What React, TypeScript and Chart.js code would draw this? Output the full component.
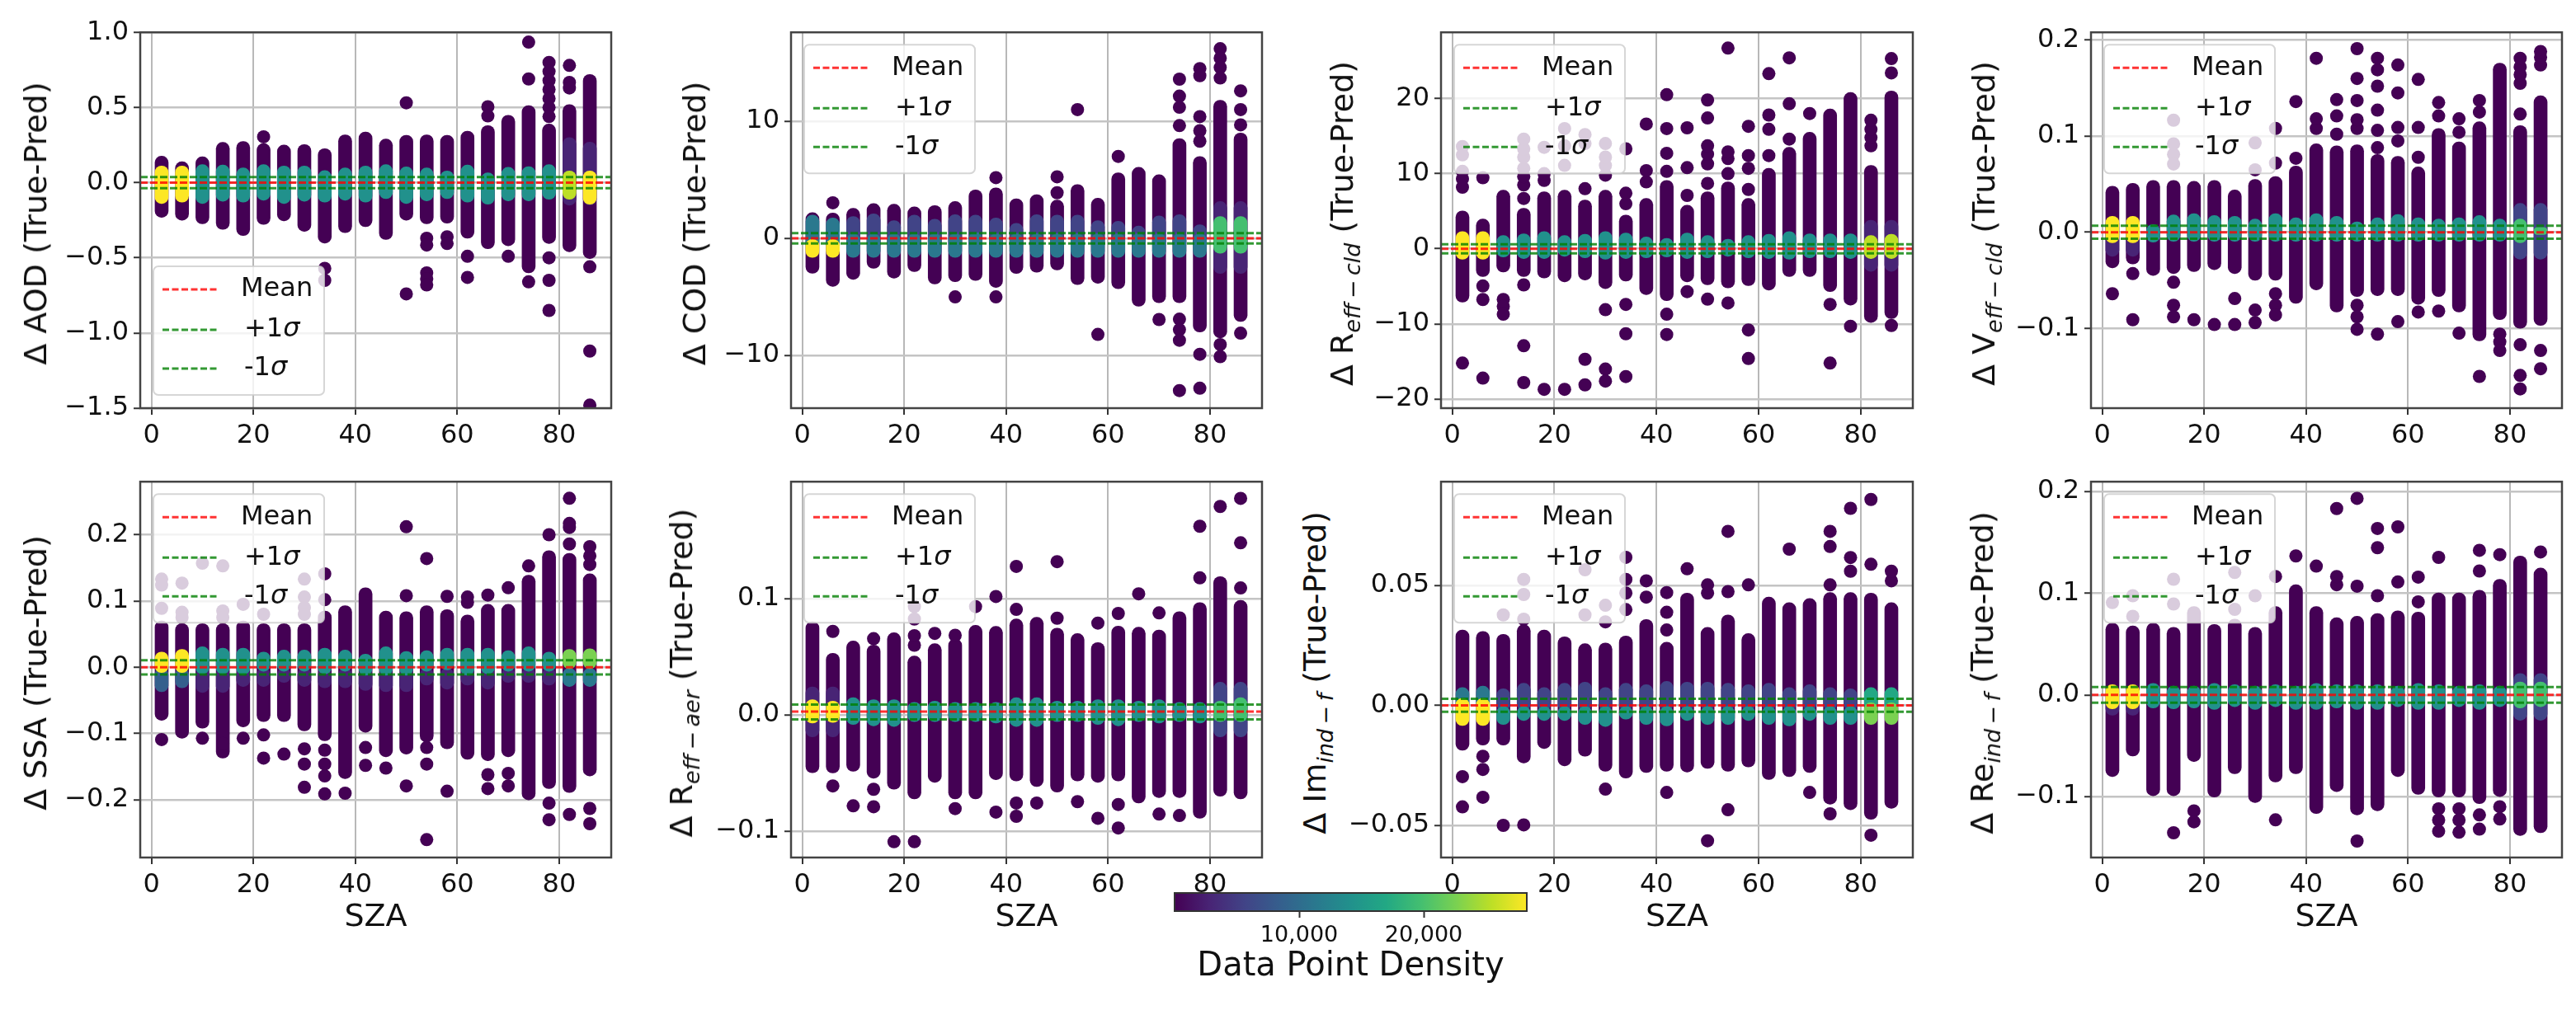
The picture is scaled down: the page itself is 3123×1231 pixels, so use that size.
import { useEffect, useRef } from "react";
import type { ReactNode } from "react";
import { Chart, registerables } from "chart.js";

Chart.register(...registerables);

const FONT = '"DejaVu Sans"';

// SZA bins shared by every panel
const sza = [2, 6, 10, 14, 18, 22, 26, 30, 34, 38, 42, 46, 50, 54, 58, 62, 66, 70, 74, 78, 82, 86];
const xTicks = [0, 20, 40, 60, 80];

// AOD
const aodTop = [0.176, 0.139, 0.172, 0.268, 0.274, 0.26, 0.25, 0.254, 0.226, 0.318, 0.337, 0.29, 0.315, 0.318, 0.315, 0.343, 0.38, 0.448, 0.513, 0.39, 0.52, 0.72];
const aodBottom = [-0.231, -0.25, -0.274, -0.311, -0.352, -0.278, -0.254, -0.324, -0.402, -0.333, -0.293, -0.378, -0.25, -0.274, -0.27, -0.37, -0.44, -0.42, -0.6, -0.405, -0.46, -0.505];
const aodCoreTop = [0.111, 0.111, 0.12, 0.117, 0.098, 0.12, 0.111, 0.111, 0.08, 0.098, 0.111, 0.12, 0.105, 0.098, 0.078, 0.117, 0.065, 0.102, 0.107, 0.12, 0.078, 0.078];
const aodCoreBottom = [-0.139, -0.13, -0.139, -0.124, -0.13, -0.117, -0.139, -0.124, -0.13, -0.117, -0.13, -0.107, -0.139, -0.121, -0.107, -0.13, -0.144, -0.121, -0.121, -0.111, -0.111, -0.144];
const aodCoreDensity = [28000, 28000, 14000, 14000, 14000, 14000, 14000, 14000, 14000, 14000, 14000, 14000, 14000, 14000, 14000, 14000, 14000, 14000, 14000, 14000, 26500, 26900];
const aodMidTop = [null, null, null, null, null, null, null, null, null, null, null, null, null, null, null, null, null, null, null, null, 0.3, 0.27];
const aodMidBottom = [null, null, null, null, null, null, null, null, null, null, null, null, null, null, null, null, null, null, null, null, -0.15, -0.15];
const aodMidDensity = [0, 0, 0, 0, 0, 0, 0, 0, 0, 0, 0, 0, 0, 0, 0, 0, 0, 0, 0, 0, 2000, 2000];
const aodOutliers = [[22, 0.305], [50, 0.531], [66, 0.505], [66, 0.444], [74, 0.69], [74, 0.935], [78, 0.8], [78, 0.74], [78, 0.68], [78, 0.62], [78, 0.56], [78, 0.5], [78, 0.44], [82, 0.78], [82, 0.667], [82, 0.63], [34, -0.57], [34, -0.65], [50, -0.74], [54, -0.37], [54, -0.415], [54, -0.6], [54, -0.64], [54, -0.68], [58, -0.36], [58, -0.405], [62, -0.49], [62, -0.63], [70, -0.49], [74, -0.66], [78, -0.5], [78, -0.65], [78, -0.85], [86, -0.56], [86, -1.12], [86, -1.48]];
const aodStats = [0, 0.037, -0.037];
const aodTicks = [-1.5, -1, -0.5, 0, 0.5, 1];
const aodTickLabels = ["−1.5", "−1.0", "−0.5", "0.0", "0.5", "1.0"];

// COD
const codTop = [2.2, 2.17, 2.57, 2.97, 2.92, 2.69, 2.8, 3.15, 4.14, 4.32, 3.39, 3.74, 3.27, 4.6, 3.43, 5.6, 6.07, 5.44, 8.53, 7.0, 11.8, 9.0];
const codBottom = [-2.98, -4.1, -3.5, -2.56, -3.4, -2.84, -3.9, -3.7, -3.6, -4.19, -3.0, -2.9, -2.7, -3.95, -3.84, -4.3, -5.8, -5.5, -5.5, -8, -8.5, -7.1];
const codCoreTop = [0, 0, 0.4, 0.4, 0.4, 0.4, 0.4, 0.4, 0.5, 0.4, 0.4, 0.4, 0.4, 0.4, 0.4, 0.4, 0.4, 0.4, 0.4, 0.4, 1.87, 1.87];
const codCoreBottom = [-1.63, -1.63, -1.63, -1.63, -1.63, -1.63, -1.63, -1.63, -1.63, -1.63, -1.63, -1.63, -1.63, -1.63, -1.63, -1.63, -1.63, -1.63, -1.63, -1.63, -1.28, -1.28];
const codCoreDensity = [28000, 28000, 11500, 11500, 11500, 11500, 11500, 11500, 11500, 11500, 11500, 11500, 11500, 11500, 11500, 11500, 11500, 11500, 11500, 11500, 19500, 19500];
const codMidTop = [1.99, 1.75, 1.87, 2.1, 1.52, 1.99, 1.64, 2.03, 1.99, 1.75, 1.29, 2.03, 1.99, 1.99, 1.52, 1.47, 1.05, 1.92, 2.03, 1.17, 3.15, 3.15];
const codMidBottom = [-1, -1, -1, -1, -1, -1, -1, -1, -1, -1, -1, -1, -1, -1, -1, -1, -1, -1, -1, -1, -3, -3];
const codMidDensity = [10700, 10700, 7000, 7000, 7000, 7000, 7000, 7000, 7000, 7000, 7000, 7000, 7000, 7000, 7000, 7000, 7000, 7000, 7000, 7000, 2000, 2000];
const codOutliers = [[6, 3.04], [38, 5.19], [50, 3.9], [50, 5.26], [54, 11], [62, 7.0], [74, 13.6], [74, 12.15], [74, 11.2], [74, 9.63], [78, 14.5], [78, 13.9], [78, 10.4], [78, 9.2], [78, 8.3], [82, 16.2], [82, 15.4], [82, 14.6], [82, 13.7], [86, 12.6], [86, 11], [86, 9.7], [30, -5], [38, -5], [58, -8.2], [70, -6.93], [74, -6.9], [74, -7.8], [74, -8.7], [74, -13], [78, -9.9], [78, -12.8], [82, -9.07], [82, -10.1], [86, -8.1]];
const codStats = [0, 0.44, -0.44];
const codTicks = [-10, 0, 10];
const codTickLabels = ["−10", "0", "10"];

// R eff-cld
const rcldTop = [5.05, 3.96, 7.8, 5.4, 7.6, 7.8, 6.5, 7.8, 4.5, 6.7, 9.1, 5.8, 7.6, 8.9, 6.7, 10.7, 13.5, 15.5, 18.6, 20.8, 11.1, 21];
const rcldBottom = [-7.1, -3.7, -3.1, -3.7, -3.9, -4.4, -4.15, -5.3, -4.3, -6.1, -6.9, -4.4, -4.8, -5.2, -4.9, -5.5, -3.7, -3.7, -5.7, -7.5, -9.8, -9.3];
const rcldCoreTop = [2.3, 2.3, 1.76, 2.0, 2.3, 1.76, 1.94, 2.3, 2.1, 1.57, 1.4, 2.1, 1.76, 1.28, 1.76, 1.94, 2.3, 2.0, 2.0, 2.0, 1.76, 1.94];
const rcldCoreBottom = [-1.4, -1.4, -1.1, -1.3, -1.3, -1.0, -1.2, -1.4, -1.3, -1.2, -1.1, -1.3, -1.2, -1.0, -1.2, -1.3, -1.4, -1.2, -1.2, -1.3, -1.3, -1.3];
const rcldCoreDensity = [28000, 28000, 14000, 14000, 14000, 14000, 14000, 14000, 14000, 14000, 14000, 14000, 14000, 14000, 14000, 14000, 14000, 14000, 14000, 14000, 25200, 25200];
const rcldMidTop = [null, null, null, null, null, null, null, null, null, null, null, null, null, null, null, null, null, null, null, null, 3.8, 3.8];
const rcldMidBottom = [null, null, null, null, null, null, null, null, null, null, null, null, null, null, null, null, null, null, null, null, -3, -3];
const rcldMidDensity = [0, 0, 0, 0, 0, 0, 0, 0, 0, 0, 0, 0, 0, 0, 0, 0, 0, 0, 0, 0, 1800, 1800];
const rcldOutliers = [[2, 13.6], [2, 12.5], [2, 10.3], [2, 9.3], [2, 8.2], [2, -15.2], [6, 9.45], [6, -4.95], [6, -6.75], [6, -17.2], [10, -6.75], [10, -7.65], [10, -8.7], [14, 6.7], [14, 8.5], [14, 9.6], [14, 10.7], [14, 12.2], [14, 13.3], [14, 14.6], [14, -4.8], [14, -12.9], [14, -17.8], [18, 9.1], [18, 10], [18, 13.5], [18, -18.7], [22, 11.1], [22, 13.7], [22, 16], [22, -18.7], [26, 8], [26, 14], [26, 15.2], [26, -14.7], [26, -18.1], [30, 9.8], [30, 11.1], [30, 12.2], [30, 14], [30, -8.1], [30, -16], [30, -17.6], [34, 6], [34, 7.4], [34, 13.3], [34, -7.4], [34, -11.3], [34, -17], [38, 8.9], [38, 10.4], [38, 16.6], [42, 10.3], [42, 12.7], [42, 16], [42, 20.5], [42, -8.7], [42, -11.4], [46, 7.1], [46, 10.8], [46, 16.1], [46, -5.7], [50, 8.7], [50, 11.3], [50, 12.6], [50, 13.7], [50, 17.4], [50, 19.8], [50, -6.7], [54, 10], [54, 12], [54, 12.9], [54, 26.7], [54, -7.2], [58, 7.9], [58, 10.7], [58, 12.4], [58, 16.3], [58, -10.8], [58, -14.6], [62, 12.4], [62, 15.9], [62, 17.8], [62, 23.3], [66, 14.6], [66, 19.3], [66, 25.4], [70, 18], [74, -7.4], [74, -15.2], [78, -10.3], [82, 13.7], [82, 14.8], [82, 15.9], [82, 17.1], [86, 23.4], [86, 25.3], [86, -10.2]];
const rcldStats = [0, 0.6, -0.6];
const rcldTicks = [-20, -10, 0, 10, 20];
const rcldTickLabels = ["−20", "−10", "0", "10", "20"];

// V eff-cld
const vcldTop = [0.048, 0.051, 0.054, 0.054, 0.053, 0.054, 0.044, 0.055, 0.058, 0.069, 0.092, 0.09, 0.091, 0.081, 0.079, 0.068, 0.108, 0.094, 0.115, 0.176, 0.111, 0.142];
const vcldBottom = [-0.037, -0.033, -0.045, -0.043, -0.041, -0.039, -0.043, -0.05, -0.05, -0.074, -0.06, -0.083, -0.067, -0.066, -0.066, -0.075, -0.067, -0.083, -0.113, -0.091, -0.1, -0.097];
const vcldCoreTop = [0.0166, 0.0166, 0.008, 0.018, 0.0194, 0.0174, 0.0166, 0.0137, 0.0194, 0.0151, 0.0194, 0.0166, 0.0109, 0.0151, 0.0186, 0.0151, 0.0137, 0.0151, 0.0174, 0.0137, 0.0137, 0.0051];
const vcldCoreBottom = [-0.011, -0.011, -0.0103, -0.0095, -0.0095, -0.0095, -0.0095, -0.0095, -0.0095, -0.0095, -0.0095, -0.0095, -0.0095, -0.0095, -0.0095, -0.0095, -0.0095, -0.0095, -0.0095, -0.0095, -0.011, -0.0023];
const vcldCoreDensity = [28000, 28000, 14000, 14000, 14000, 14000, 14000, 14000, 14000, 14000, 14000, 14000, 14000, 14000, 14000, 14000, 14000, 14000, 14000, 14000, 21200, 21200];
const vcldMidTop = [0.015, 0.015, null, null, null, null, null, null, null, null, null, null, null, null, null, null, null, null, null, null, 0.03, 0.03];
const vcldMidBottom = [-0.025, -0.025, null, null, null, null, null, null, null, null, null, null, null, null, null, null, null, null, null, null, -0.028, -0.028];
const vcldMidDensity = [3500, 3500, 0, 0, 0, 0, 0, 0, 0, 0, 0, 0, 0, 0, 0, 0, 0, 0, 0, 0, 6500, 6500];
const vcldOutliers = [[14, 0.1166], [14, 0.092], [14, 0.081], [14, 0.071], [30, 0.093], [30, 0.065], [34, 0.072], [34, 0.108], [38, 0.077], [38, 0.136], [42, 0.108], [42, 0.118], [42, 0.181], [46, 0.102], [46, 0.121], [46, 0.138], [50, 0.108], [50, 0.117], [50, 0.137], [50, 0.16], [50, 0.191], [54, 0.088], [54, 0.106], [54, 0.127], [54, 0.152], [54, 0.169], [54, 0.181], [58, 0.095], [58, 0.109], [58, 0.145], [58, 0.174], [62, 0.078], [62, 0.109], [62, 0.159], [66, 0.121], [66, 0.135], [70, 0.104], [70, 0.118], [74, 0.125], [74, 0.137], [82, 0.123], [82, 0.155], [82, 0.164], [82, 0.172], [82, 0.181], [86, 0.174], [86, 0.182], [86, 0.188], [2, -0.064], [6, -0.043], [6, -0.091], [14, -0.052], [14, -0.076], [14, -0.088], [18, -0.091], [22, -0.096], [26, -0.069], [26, -0.096], [30, -0.081], [30, -0.094], [34, -0.064], [34, -0.076], [34, -0.086], [50, -0.076], [50, -0.088], [50, -0.101], [54, -0.106], [58, -0.093], [62, -0.083], [66, -0.082], [70, -0.105], [74, -0.15], [78, -0.106], [78, -0.114], [78, -0.123], [82, -0.117], [82, -0.149], [82, -0.163], [86, -0.123], [86, -0.142]];
const vcldStats = [0, 0.0067, -0.0067];
const vcldTicks = [-0.1, 0, 0.1, 0.2];
const vcldTickLabels = ["−0.1", "0.0", "0.1", "0.2"];

// SSA
const ssaTop = [0.07, 0.066, 0.066, 0.066, 0.07, 0.066, 0.066, 0.066, 0.085, 0.093, 0.12, 0.085, 0.084, 0.093, 0.087, 0.079, 0.095, 0.095, 0.139, 0.176, 0.172, 0.141];
const ssaBottom = [-0.08, -0.107, -0.092, -0.137, -0.09, -0.082, -0.082, -0.096, -0.111, -0.168, -0.098, -0.135, -0.131, -0.113, -0.123, -0.139, -0.141, -0.135, -0.2, -0.183, -0.189, -0.164];
const ssaCoreTop = [0.023, 0.027, 0.031, 0.029, 0.029, 0.023, 0.026, 0.026, 0.029, 0.026, 0.02, 0.031, 0.024, 0.025, 0.029, 0.029, 0.029, 0.025, 0.031, 0.023, 0.027, 0.028];
const ssaCoreBottom = [-0.008, -0.008, -0.01, -0.01, -0.011, -0.006, -0.006, -0.006, -0.01, -0.006, -0.012, -0.012, -0.012, -0.006, -0.004, -0.012, -0.01, -0.006, -0.006, -0.006, -0.002, -0.002];
const ssaCoreDensity = [28000, 28000, 14000, 14000, 14000, 14000, 14000, 14000, 14000, 14000, 14000, 14000, 14000, 14000, 14000, 14000, 14000, 14000, 14000, 14000, 22000, 22000];
const ssaMidTop = [0, 0, 0, 0, 0, 0, 0, 0, 0, 0, 0, 0, 0, 0, 0, 0, 0, 0, 0, 0, 0, 0];
const ssaMidBottom = [-0.037, -0.031, -0.038, -0.038, -0.029, -0.029, -0.023, -0.029, -0.031, -0.031, -0.035, -0.037, -0.037, -0.027, -0.033, -0.027, -0.033, -0.023, -0.023, -0.027, -0.029, -0.029];
const ssaMidDensity = [8500, 8500, 3500, 3500, 3500, 3500, 3500, 3500, 3500, 3500, 3500, 3500, 3500, 3500, 3500, 3500, 3500, 3500, 3500, 3500, 10000, 10000];
const ssaOutliers = [[2, 0.133], [2, 0.124], [2, 0.089], [6, 0.127], [6, 0.083], [6, 0.075], [10, 0.157], [14, 0.153], [14, 0.085], [14, 0.075], [18, 0.095], [22, 0.08], [30, 0.133], [30, 0.106], [30, 0.09], [30, 0.08], [34, 0.102], [34, 0.141], [50, 0.108], [50, 0.212], [54, 0.164], [58, 0.107], [62, 0.098], [62, 0.106], [66, 0.109], [70, 0.12], [74, 0.153], [78, 0.2], [82, 0.186], [82, 0.211], [82, 0.217], [82, 0.255], [86, 0.155], [86, 0.168], [86, 0.182], [2, -0.109], [10, -0.107], [14, -0.115], [18, -0.107], [22, -0.102], [22, -0.137], [26, -0.131], [30, -0.123], [30, -0.146], [30, -0.181], [34, -0.125], [34, -0.146], [34, -0.164], [34, -0.191], [38, -0.19], [42, -0.121], [42, -0.148], [46, -0.152], [50, -0.179], [54, -0.121], [54, -0.146], [54, -0.26], [58, -0.187], [66, -0.162], [66, -0.183], [70, -0.16], [70, -0.179], [78, -0.205], [78, -0.23], [82, -0.222], [86, -0.213], [86, -0.236]];
const ssaStats = [0, 0.0107, -0.0107];
const ssaTicks = [-0.2, -0.1, 0, 0.1, 0.2];
const ssaTickLabels = ["−0.2", "−0.1", "0.0", "0.1", "0.2"];

// R eff-aer
const raerTop = [0.08, 0.0529, 0.0634, 0.06, 0.0705, 0.0505, 0.0611, 0.0651, 0.0769, 0.076, 0.0824, 0.0838, 0.0745, 0.0698, 0.0621, 0.0763, 0.0753, 0.0729, 0.0887, 0.0965, 0.1188, 0.0983];
const raerBottom = [-0.0498, -0.05, -0.0486, -0.0545, -0.064, -0.0723, -0.058, -0.0723, -0.0723, -0.0557, -0.0569, -0.0616, -0.0664, -0.0569, -0.058, -0.0569, -0.0758, -0.0711, -0.0711, -0.0889, -0.07, -0.0723];
const raerCoreTop = [0.013, 0.0118, 0.0147, 0.013, 0.013, 0.0107, 0.0118, 0.0107, 0.0107, 0.0107, 0.0147, 0.0147, 0.0118, 0.0118, 0.013, 0.013, 0.0118, 0.013, 0.0107, 0.0107, 0.0118, 0.0147];
const raerCoreBottom = [-0.0071, -0.0066, -0.0083, -0.0095, -0.01, -0.0059, -0.0059, -0.0059, -0.0059, -0.0071, -0.01, -0.01, -0.0059, -0.0059, -0.0083, -0.0095, -0.0059, -0.0071, -0.0059, -0.0071, -0.0059, -0.0059];
const raerCoreDensity = [28000, 28000, 14000, 14000, 14000, 14000, 14000, 14000, 14000, 14000, 14000, 14000, 14000, 14000, 14000, 14000, 14000, 14000, 14000, 14000, 20500, 20500];
const raerMidTop = [0.024, 0.024, null, null, null, null, null, null, null, null, null, null, null, null, null, null, null, null, null, null, 0.028, 0.028];
const raerMidBottom = [-0.019, -0.019, null, null, null, null, null, null, null, null, null, null, null, null, null, null, null, null, null, null, -0.019, -0.019];
const raerMidDensity = [3500, 3500, 0, 0, 0, 0, 0, 0, 0, 0, 0, 0, 0, 0, 0, 0, 0, 0, 0, 0, 6500, 6500];
const raerOutliers = [[6, 0.0717], [14, 0.0654], [22, 0.0598], [22, 0.068], [22, 0.0823], [22, 0.093], [26, 0.07], [30, 0.0683], [34, 0.093], [38, 0.1017], [42, 0.0906], [42, 0.1275], [50, 0.083], [50, 0.1316], [58, 0.0788], [62, 0.0871], [66, 0.104], [70, 0.0876], [78, 0.1177], [78, 0.162], [82, 0.179], [86, 0.109], [86, 0.1478], [86, 0.186], [6, -0.0611], [10, -0.0782], [14, -0.064], [14, -0.079], [18, -0.109], [22, -0.109], [30, -0.0806], [38, -0.0836], [42, -0.0758], [42, -0.0872], [46, -0.0758], [54, -0.0746], [58, -0.0889], [62, -0.077], [62, -0.0972], [70, -0.0853], [74, -0.0865]];
const raerStats = [0.0028, 0.0088, -0.004];
const raerTicks = [-0.1, 0, 0.1];
const raerTickLabels = ["−0.1", "0.0", "0.1"];

// Im ind-f
const imTop = [0.0314, 0.0308, 0.0296, 0.0336, 0.0314, 0.0286, 0.0257, 0.026, 0.0289, 0.0358, 0.0263, 0.0468, 0.0325, 0.0377, 0.0299, 0.0451, 0.0428, 0.0445, 0.047, 0.047, 0.0468, 0.0428];
const imBottom = [-0.0187, -0.0166, -0.0166, -0.024, -0.018, -0.0252, -0.0212, -0.0275, -0.0303, -0.028, -0.0275, -0.0278, -0.0263, -0.0275, -0.0257, -0.0309, -0.0297, -0.028, -0.0412, -0.0435, -0.0475, -0.0429];
const imCoreTop = [0.0029, 0.0029, 0, 0, 0, 0, 0, 0, 0, 0, 0, 0, 0, 0, 0, 0, 0, 0, 0, 0, 0.0011, 0.0011];
const imCoreBottom = [-0.0084, -0.0084, -0.008, -0.0063, -0.0063, -0.0063, -0.008, -0.0088, -0.0057, -0.008, -0.0086, -0.0063, -0.008, -0.008, -0.0063, -0.008, -0.0086, -0.0063, -0.008, -0.008, -0.008, -0.008];
const imCoreDensity = [28000, 28000, 15000, 15000, 15000, 15000, 15000, 15000, 15000, 15000, 15000, 15000, 15000, 15000, 15000, 15000, 15000, 15000, 15000, 15000, 23500, 23500];
const imMidTop = [0.0074, 0.008, 0.0069, 0.0092, 0.0074, 0.0092, 0.0097, 0.0074, 0.0092, 0.0086, 0.01, 0.0097, 0.0097, 0.0092, 0.0086, 0.0092, 0.0074, 0.0086, 0.0074, 0.0069, 0.0074, 0.0074];
const imMidBottom = [-0.002, -0.002, -0.002, -0.002, -0.002, -0.002, -0.002, -0.002, -0.002, -0.002, -0.002, -0.002, -0.002, -0.002, -0.002, -0.002, -0.002, -0.002, -0.002, -0.002, -0.002, -0.002];
const imMidDensity = [12500, 12500, 7000, 7000, 7000, 7000, 7000, 7000, 7000, 7000, 7000, 7000, 7000, 7000, 7000, 7000, 7000, 7000, 7000, 7000, 17000, 17000];
const imOutliers = [[10, 0.0377], [14, 0.0359], [14, 0.0462], [14, 0.0525], [26, 0.0377], [26, 0.0565], [30, 0.0348], [30, 0.0417], [34, 0.0399], [34, 0.0468], [34, 0.0525], [34, 0.0617], [38, 0.0451], [38, 0.0519], [42, 0.0314], [42, 0.0388], [42, 0.047], [46, 0.0569], [50, 0.0468], [50, 0.0502], [54, 0.0474], [54, 0.0725], [58, 0.0502], [66, 0.0651], [74, 0.0502], [74, 0.0662], [74, 0.0725], [78, 0.0559], [78, 0.0616], [78, 0.0821], [82, 0.0588], [82, 0.0858], [86, 0.0519], [86, 0.0559], [2, -0.0297], [2, -0.0423], [6, -0.0212], [6, -0.0267], [6, -0.0383], [10, -0.05], [14, -0.0498], [30, -0.0349], [42, -0.0363], [50, -0.0564], [54, -0.0435], [70, -0.0363], [74, -0.0452], [82, -0.0541]];
const imStats = [0, 0.0027, -0.0027];
const imTicks = [-0.05, 0, 0.05];
const imTickLabels = ["−0.05", "0.00", "0.05"];

// Re ind-f
const reTop = [0.0706, 0.0678, 0.0706, 0.0665, 0.0869, 0.0693, 0.0746, 0.0665, 0.0869, 0.1083, 0.0869, 0.0759, 0.0773, 0.08, 0.0827, 0.0814, 0.1003, 0.1003, 0.1029, 0.1137, 0.1366, 0.1247];
const reBottom = [-0.0803, -0.0601, -0.0992, -0.0992, -0.0655, -0.1005, -0.0776, -0.1059, -0.0857, -0.0776, -0.1167, -0.0951, -0.118, -0.114, -0.0803, -0.0978, -0.1005, -0.1005, -0.107, -0.1, -0.1383, -0.1356];
const reCoreTop = [0.01, 0.01, 0.0113, 0.0086, 0.0086, 0.0113, 0.01, 0.0086, 0.01, 0.0086, 0.0113, 0.01, 0.01, 0.01, 0.0086, 0.0113, 0.01, 0.0086, 0.01, 0.0086, 0.0127, 0.0127];
const reCoreBottom = [-0.0137, -0.0137, -0.013, -0.0137, -0.013, -0.0143, -0.0116, -0.0143, -0.0116, -0.0143, -0.0143, -0.013, -0.0143, -0.0143, -0.0116, -0.0143, -0.0143, -0.0116, -0.0143, -0.0116, -0.013, -0.0116];
const reCoreDensity = [28000, 28000, 14000, 14000, 14000, 14000, 14000, 14000, 14000, 14000, 14000, 14000, 14000, 14000, 14000, 14000, 14000, 14000, 14000, 14000, 20500, 20500];
const reMidTop = [0, 0, null, null, null, null, null, null, null, null, null, null, null, null, null, null, null, null, null, null, 0.021, 0.021];
const reMidBottom = [-0.02, -0.02, null, null, null, null, null, null, null, null, null, null, null, null, null, null, null, null, null, null, -0.025, -0.025];
const reMidDensity = [2500, 2500, 0, 0, 0, 0, 0, 0, 0, 0, 0, 0, 0, 0, 0, 0, 0, 0, 0, 0, 6500, 6500];
const reOutliers = [[2, 0.0907], [6, 0.0773], [6, 0.0975], [14, 0.0894], [14, 0.1137], [26, 0.0841], [26, 0.1204], [30, 0.0975], [34, 0.1164], [38, 0.1366], [42, 0.1266], [46, 0.1083], [46, 0.1164], [46, 0.1832], [50, 0.1069], [50, 0.1932], [54, 0.0975], [54, 0.1447], [54, 0.1636], [58, 0.111], [58, 0.1652], [62, 0.0915], [62, 0.1158], [66, 0.1352], [74, 0.1218], [74, 0.1421], [78, 0.1379], [86, 0.1405], [14, -0.1356], [18, -0.114], [18, -0.1248], [34, -0.1229], [50, -0.1437], [66, -0.112], [66, -0.123], [66, -0.134], [70, -0.112], [70, -0.123], [70, -0.135], [74, -0.118], [74, -0.132], [78, -0.11], [78, -0.122]];
const reStats = [0, 0.0077, -0.0077];
const reTicks = [-0.1, 0, 0.1, 0.2];
const reTickLabels = ["−0.1", "0.0", "0.1", "0.2"];

// colorbar
const densityMax = 28278;
const densityTicks = [10000, 20000];
const viridis = ["#440154", "#482475", "#414487", "#355f8d", "#2a788e", "#21918c", "#22a884", "#44bf70", "#7ad151", "#bddf26", "#fde725"];

const densityColor = (d: number) => viridis[Math.min(10, Math.round((d / densityMax) * 10))];

const sub = (s: string) => (
  <sub style={{ fontSize: 27, fontStyle: "italic", lineHeight: 0 }}>{s}</sub>
);

interface PanelConfig {
  label: ReactNode;
  labelX: number;
  left: number;
  right: number;
  top: number;
  bottom: number;
  yMin: number;
  yMax: number;
  yTicks: number[];
  yTickLabels: string[];
  hi: number[];
  lo: number[];
  coreHi: number[];
  coreLo: number[];
  coreDensity: number[];
  midHi: (number | null)[];
  midLo: (number | null)[];
  midDensity: number[];
  outliers: number[][];
  stats: number[];
  legendBelow?: boolean;
  showXLabel?: boolean;
}

const panels: PanelConfig[] = [
  { label: <>Δ AOD (True-Pred)</>, labelX: 43, left: 170, right: 741, top: 38, bottom: 495, yMin: -1.5, yMax: 1.0, yTicks: aodTicks, yTickLabels: aodTickLabels, hi: aodTop, lo: aodBottom, coreHi: aodCoreTop, coreLo: aodCoreBottom, coreDensity: aodCoreDensity, midHi: aodMidTop, midLo: aodMidBottom, midDensity: aodMidDensity, outliers: aodOutliers, stats: aodStats, legendBelow: true },
  { label: <>Δ COD (True-Pred)</>, labelX: 842, left: 959, right: 1530, top: 38, bottom: 495, yMin: -14.5, yMax: 17.6, yTicks: codTicks, yTickLabels: codTickLabels, hi: codTop, lo: codBottom, coreHi: codCoreTop, coreLo: codCoreBottom, coreDensity: codCoreDensity, midHi: codMidTop, midLo: codMidBottom, midDensity: codMidDensity, outliers: codOutliers, stats: codStats },
  { label: <>Δ R{sub("eff\u2009−\u2009cld")} (True-Pred)</>, labelX: 1627, left: 1747, right: 2319, top: 38, bottom: 495, yMin: -21.2, yMax: 28.8, yTicks: rcldTicks, yTickLabels: rcldTickLabels, hi: rcldTop, lo: rcldBottom, coreHi: rcldCoreTop, coreLo: rcldCoreBottom, coreDensity: rcldCoreDensity, midHi: rcldMidTop, midLo: rcldMidBottom, midDensity: rcldMidDensity, outliers: rcldOutliers, stats: rcldStats },
  { label: <>Δ V{sub("eff\u2009−\u2009cld")} (True-Pred)</>, labelX: 2405, left: 2535, right: 3106, top: 38, bottom: 495, yMin: -0.183, yMax: 0.208, yTicks: vcldTicks, yTickLabels: vcldTickLabels, hi: vcldTop, lo: vcldBottom, coreHi: vcldCoreTop, coreLo: vcldCoreBottom, coreDensity: vcldCoreDensity, midHi: vcldMidTop, midLo: vcldMidBottom, midDensity: vcldMidDensity, outliers: vcldOutliers, stats: vcldStats },
  { label: <>Δ SSA (True-Pred)</>, labelX: 43, left: 170, right: 741, top: 583, bottom: 1040, yMin: -0.287, yMax: 0.28, yTicks: ssaTicks, yTickLabels: ssaTickLabels, hi: ssaTop, lo: ssaBottom, coreHi: ssaCoreTop, coreLo: ssaCoreBottom, coreDensity: ssaCoreDensity, midHi: ssaMidTop, midLo: ssaMidBottom, midDensity: ssaMidDensity, outliers: ssaOutliers, stats: ssaStats, showXLabel: true },
  { label: <>Δ R{sub("eff\u2009−\u2009aer")} (True-Pred)</>, labelX: 826, left: 959, right: 1530, top: 583, bottom: 1040, yMin: -0.1226, yMax: 0.2003, yTicks: raerTicks, yTickLabels: raerTickLabels, hi: raerTop, lo: raerBottom, coreHi: raerCoreTop, coreLo: raerCoreBottom, coreDensity: raerCoreDensity, midHi: raerMidTop, midLo: raerMidBottom, midDensity: raerMidDensity, outliers: raerOutliers, stats: raerStats, showXLabel: true },
  { label: <>Δ Im{sub("ind\u2009−\u2009f")} (True-Pred)</>, labelX: 1594, left: 1747, right: 2319, top: 583, bottom: 1040, yMin: -0.0634, yMax: 0.0932, yTicks: imTicks, yTickLabels: imTickLabels, hi: imTop, lo: imBottom, coreHi: imCoreTop, coreLo: imCoreBottom, coreDensity: imCoreDensity, midHi: imMidTop, midLo: imMidBottom, midDensity: imMidDensity, outliers: imOutliers, stats: imStats, showXLabel: true },
  { label: <>Δ Re{sub("ind\u2009−\u2009f")} (True-Pred)</>, labelX: 2403, left: 2535, right: 3106, top: 583, bottom: 1040, yMin: -0.1599, yMax: 0.2096, yTicks: reTicks, yTickLabels: reTickLabels, hi: reTop, lo: reBottom, coreHi: reCoreTop, coreLo: reCoreBottom, coreDensity: reCoreDensity, midHi: reMidTop, midLo: reMidBottom, midDensity: reMidDensity, outliers: reOutliers, stats: reStats, showXLabel: true },
];

const Y_AXIS_W = 120;
const PAD_TOP = 24;
const PAD_RIGHT = 17;
const RED = "rgba(255, 0, 0, 0.8)";
const GREEN = "rgba(0, 128, 0, 0.8)";

// spines and the matplotlib style legend box, both sit above the marks
const panelDecor = {
  id: "panelDecor",
  afterDatasetsDraw(chart: any, _args: any, opts: any) {
    const { ctx, chartArea: a } = chart;
    ctx.save();

    const boxW = 207;
    const boxH = 156;
    const bx = a.left + 16;
    const by = opts.legendBelow ? a.bottom - 16 - boxH : a.top + 15;
    ctx.beginPath();
    ctx.roundRect(bx, by, boxW, boxH, 6);
    ctx.fillStyle = "rgba(255, 255, 255, 0.8)";
    ctx.fill();
    ctx.strokeStyle = "rgba(204, 204, 204, 0.8)";
    ctx.lineWidth = 2;
    ctx.stroke();

    const rows = [
      { color: RED, y: 28, text: "Mean", sigma: false },
      { color: GREEN, y: 77, text: "+1", sigma: true },
      { color: GREEN, y: 124, text: "-1", sigma: true },
    ];
    ctx.textBaseline = "middle";
    rows.forEach((r) => {
      ctx.beginPath();
      ctx.setLineDash([8, 3.5]);
      ctx.lineWidth = 3;
      ctx.strokeStyle = r.color;
      ctx.moveTo(bx + 11, by + r.y);
      ctx.lineTo(bx + 80, by + r.y);
      ctx.stroke();
      ctx.setLineDash([]);

      ctx.fillStyle = "#111";
      ctx.font = `32px ${FONT}`;
      const tx = r.sigma ? bx + 110 : bx + 106;
      ctx.fillText(r.text, tx, by + r.y);
      if (r.sigma) {
        const w = ctx.measureText(r.text).width;
        ctx.font = `italic 32px ${FONT}`;
        ctx.fillText("σ", tx + w, by + r.y);
      }
    });

    ctx.strokeStyle = "#444";
    ctx.lineWidth = 2.5;
    ctx.strokeRect(a.left, a.top, a.right - a.left, a.bottom - a.top);
    ctx.restore();
  },
};

function Panel({ p }: { p: PanelConfig }) {
  const canvasRef = useRef<HTMLCanvasElement | null>(null);
  const xHeight = p.showXLabel ? 96 : 55;
  const cssW = Y_AXIS_W + (p.right - p.left) + PAD_RIGHT;
  const cssH = PAD_TOP + (p.bottom - p.top) + xHeight;

  useEffect(() => {
    if (!canvasRef.current) return;
    const xMin = -2.2;
    const xMax = 90.2;
    const hline = (y: number, color: string) => ({
      type: "line",
      data: [{ x: xMin, y }, { x: xMax, y }],
      borderColor: color,
      borderWidth: 3,
      borderDash: [9, 3],
      pointRadius: 0,
      showLine: true,
      clip: true,
    });
    const band = (hi: (number | null)[], lo: (number | null)[], colors: string[] | string) => ({
      type: "bar",
      data: sza.map((x, i) => ({ x, y: hi[i] === null ? null : [lo[i], hi[i]] })),
      backgroundColor: colors,
      barThickness: 16,
      borderRadius: 8,
      borderSkipped: false,
      grouped: false,
    });

    // first dataset ends up on top
    const chart = new Chart(canvasRef.current, {
      type: "scatter",
      data: {
        datasets: [
          hline(p.stats[0], RED),
          hline(p.stats[1], GREEN),
          hline(p.stats[2], GREEN),
          band(p.coreHi, p.coreLo, p.coreDensity.map(densityColor)),
          band(p.midHi, p.midLo, p.midDensity.map(densityColor)),
          {
            type: "scatter",
            data: p.outliers.map(([x, y]) => ({ x, y })),
            backgroundColor: viridis[0],
            borderWidth: 0,
            pointRadius: 8,
          },
          band(p.hi, p.lo, viridis[0]),
        ] as any,
      },
      options: {
        responsive: false,
        maintainAspectRatio: false,
        animation: false,
        events: [],
        layout: { padding: { top: PAD_TOP, right: PAD_RIGHT, left: 0, bottom: 0 } },
        plugins: {
          legend: { display: false },
          tooltip: { enabled: false },
          panelDecor: { legendBelow: p.legendBelow },
        } as any,
        scales: {
          x: {
            type: "linear",
            min: xMin,
            max: xMax,
            offset: false,
            afterBuildTicks: (s: any) => { s.ticks = xTicks.map((value) => ({ value })); },
            afterFit: (s: any) => { s.height = xHeight; },
            grid: { color: "#b8b8b8", lineWidth: 2, offset: false, tickColor: "#333", tickLength: 8, tickWidth: 2 },
            border: { display: false },
            ticks: { color: "#111", font: { family: FONT, size: 32 }, padding: 6, maxRotation: 0, autoSkip: false },
            title: {
              display: !!p.showXLabel,
              text: "SZA",
              color: "#111",
              font: { family: FONT, size: 38 },
              padding: 0,
            },
          },
          y: {
            type: "linear",
            min: p.yMin,
            max: p.yMax,
            afterBuildTicks: (s: any) => { s.ticks = p.yTicks.map((value) => ({ value })); },
            afterFit: (s: any) => { s.width = Y_AXIS_W; },
            grid: { color: "#c4c4c4", lineWidth: 2.5, tickColor: "#333", tickLength: 8, tickWidth: 2 },
            border: { display: false },
            ticks: {
              color: "#111",
              font: { family: FONT, size: 32 },
              padding: 6,
              autoSkip: false,
              callback: (v: any) => p.yTickLabels[p.yTicks.indexOf(v)] ?? "",
            },
          },
        },
      } as any,
      plugins: [panelDecor],
    });
    return () => chart.destroy();
  }, []);

  return (
    <>
      <canvas
        ref={canvasRef}
        width={cssW}
        height={cssH}
        style={{ position: "absolute", left: p.left - Y_AXIS_W, top: p.top - PAD_TOP, width: cssW, height: cssH }}
      />
      <div
        style={{
          position: "absolute",
          left: p.labelX,
          top: (p.top + p.bottom) / 2 + 4,
          transform: "translate(-50%, -50%) rotate(-90deg)",
          whiteSpace: "nowrap",
          font: `38px ${FONT}`,
          color: "#111",
        }}
      >
        {p.label}
      </div>
    </>
  );
}

function Colorbar() {
  const canvasRef = useRef<HTMLCanvasElement | null>(null);

  useEffect(() => {
    if (!canvasRef.current) return;
    const chart = new Chart(canvasRef.current, {
      type: "bar",
      data: {
        labels: [""],
        datasets: [{
          data: [[0, densityMax]],
          barPercentage: 1,
          categoryPercentage: 1,
          backgroundColor: (c: any) => {
            const a = c.chart.chartArea;
            if (!a) return viridis[0];
            const g = c.chart.ctx.createLinearGradient(a.left, 0, a.right, 0);
            viridis.forEach((col, i) => g.addColorStop(i / 10, col));
            return g;
          },
        }] as any,
      },
      options: {
        indexAxis: "y",
        responsive: false,
        maintainAspectRatio: false,
        animation: false,
        events: [],
        layout: { padding: { top: 4, left: 60, right: 60, bottom: 0 } },
        plugins: { legend: { display: false }, tooltip: { enabled: false } },
        scales: {
          y: { display: false },
          x: {
            type: "linear",
            min: 0,
            max: densityMax,
            afterBuildTicks: (s: any) => { s.ticks = densityTicks.map((value) => ({ value })); },
            afterFit: (s: any) => { s.height = 92; },
            grid: { drawOnChartArea: false, tickColor: "#333", tickLength: 8, tickWidth: 2 },
            border: { display: false },
            ticks: {
              color: "#111",
              font: { family: FONT, size: 27 },
              padding: 6,
              autoSkip: false,
              maxRotation: 0,
              callback: (v: any) => Number(v).toLocaleString("en-US"),
            },
            title: { display: true, text: "Data Point Density", color: "#111", font: { family: FONT, size: 40 }, padding: 0 },
          },
        },
      } as any,
      plugins: [{
        id: "barFrame",
        afterDatasetsDraw(c: any) {
          const { ctx, chartArea: a } = c;
          ctx.save();
          ctx.strokeStyle = "#333";
          ctx.lineWidth = 2;
          ctx.strokeRect(a.left, a.top, a.right - a.left, a.bottom - a.top);
          ctx.restore();
        },
      }],
    });
    return () => chart.destroy();
  }, []);

  return (
    <canvas
      ref={canvasRef}
      width={547}
      height={118}
      style={{ position: "absolute", left: 1364, top: 1079, width: 547, height: 118 }}
    />
  );
}

export default function App() {
  return (
    <div style={{ position: "absolute", left: 0, top: 0, width: 3123, height: 1231, overflow: "hidden", background: "#fff", filter: "blur(0.6px)" }}>
      {panels.map((p, i) => (
        <Panel key={i} p={p} />
      ))}
      <Colorbar />
    </div>
  );
}
